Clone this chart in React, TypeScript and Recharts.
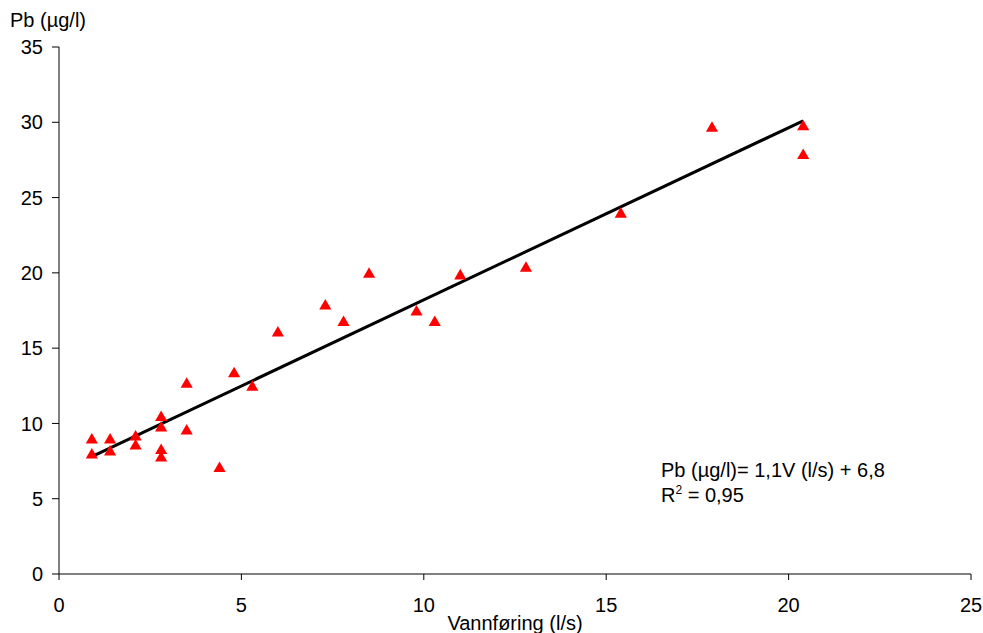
import React from 'react';
import {
  ComposedChart,
  Scatter,
  XAxis,
  YAxis,
  ReferenceLine,
  Label,
  Customized,
} from 'recharts';

// measured points: discharge (l/s) vs lead (µg/l)
const flowValues = [
  0.9, 0.9, 1.4, 1.4, 2.1, 2.1, 2.8, 2.8, 2.8, 2.8, 3.5, 3.5, 4.4, 4.8,
  5.3, 6.0, 7.3, 7.8, 8.5, 9.8, 10.3, 11.0, 12.8, 15.4, 17.9, 20.4, 20.4,
];
const leadValues = [
  8.9, 7.9, 8.9, 8.1, 9.1, 8.5, 10.4, 9.7, 8.2, 7.7, 12.6, 9.5, 7.0, 13.3,
  12.4, 16.0, 17.8, 16.7, 19.9, 17.4, 16.7, 19.8, 20.3, 23.9, 29.6, 29.7, 27.8,
];

// fitted line end points
const trendX = [0.9, 20.4];
const trendY = [7.8, 30.1];

const xTicks = [0, 5, 10, 15, 20, 25];
const yTicks = [0, 5, 10, 15, 20, 25, 30, 35];

const points = flowValues.map((x, i) => ({ x, y: leadValues[i] }));

const FONT = '"Liberation Sans", Arial, sans-serif';
const FS = 20;

const Equation = () => (
  <g fontFamily={FONT} fontSize={FS} fill="#000">
    <text x={661} y={477}>Pb (µg/l)= 1,1V (l/s) + 6,8</text>
    <text x={661} y={502}>
      R<tspan fontSize={12} dy={-8}>2</tspan>
      <tspan dy={8}> = 0,95</tspan>
    </text>
  </g>
);

export default function App() {
  return (
    <div style={{ width: 983, height: 633, background: '#fff', position: 'relative' }}>
      <style>{'body{margin:0}'}</style>
      <ComposedChart
        width={983}
        height={633}
        data={points}
        margin={{ top: 47, right: 12, left: 0, bottom: 0 }}
      >
        <XAxis
          type="number"
          dataKey="x"
          domain={[0, 25]}
          ticks={xTicks}
          interval={0}
          height={59}
          tickSize={6}
          tickMargin={18}
          stroke="#000"
          tick={{ fill: '#000', fontSize: FS, fontFamily: FONT }}
        >
          <Label
            value="Vannføring (l/s)"
            position="insideBottom"
            offset={3}
            style={{ fill: '#000', fontSize: FS, fontFamily: FONT }}
          />
        </XAxis>
        <XAxis
          xAxisId="top"
          orientation="top"
          type="number"
          domain={[0, 25]}
          height={0}
          tick={false}
          tickLine={false}
          stroke="#8c8c8c"
        />
        <YAxis
          type="number"
          dataKey="y"
          domain={[0, 35]}
          ticks={yTicks}
          interval={0}
          width={59}
          tickSize={7}
          tickMargin={9}
          stroke="#000"
          tick={{ fill: '#000', fontSize: FS, fontFamily: FONT }}
        >
          <Label
            content={() => (
              <text x={10} y={27} fontFamily={FONT} fontSize={FS} fill="#000">
                Pb (µg/l)
              </text>
            )}
          />
        </YAxis>
        <YAxis
          yAxisId="right"
          orientation="right"
          type="number"
          domain={[0, 35]}
          width={0}
          tick={false}
          tickLine={false}
          stroke="#8c8c8c"
        />
        <ReferenceLine
          segment={[
            { x: trendX[0], y: trendY[0] },
            { x: trendX[1], y: trendY[1] },
          ]}
          stroke="#000"
          strokeWidth={3}
        />
        <Scatter
          dataKey="y"
          fill="#ff0000"
          shape="triangle"
          legendType="triangle"
          size={80}
          isAnimationActive={false}
        />
        <Customized component={Equation} />
      </ComposedChart>
    </div>
  );
}
